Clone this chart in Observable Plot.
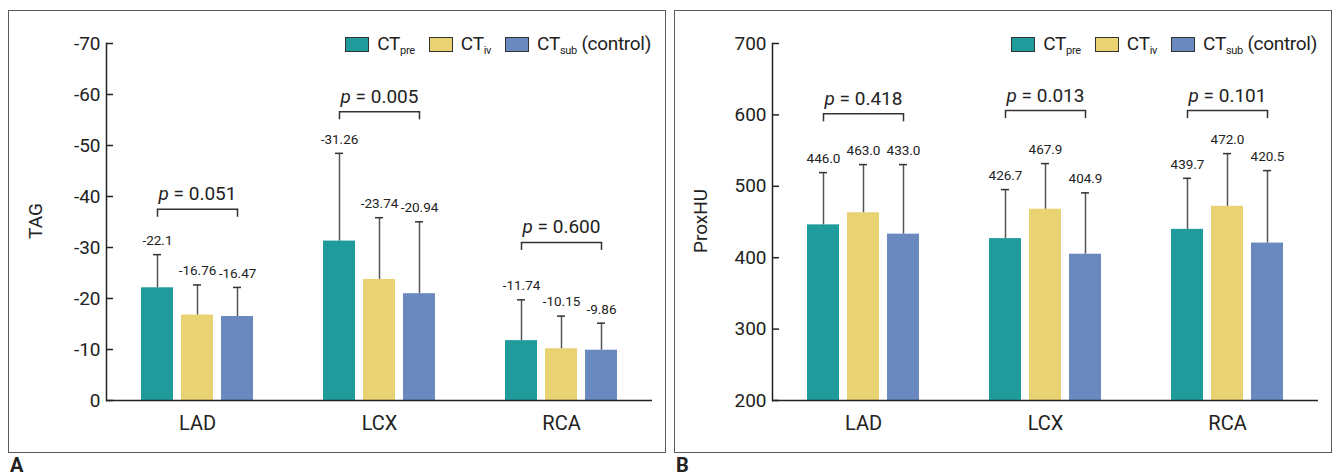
<!DOCTYPE html>
<html>
<head>
<meta charset="utf-8">
<script src="https://cdn.jsdelivr.net/npm/d3@7"></script>
<script src="https://cdn.jsdelivr.net/npm/@observablehq/plot@0.6"></script>
<style>
  html, body { margin: 0; padding: 0; background: #fff; }
  body { width: 1335px; height: 475px; position: relative; overflow: hidden; font-family: Roboto, "Noto Sans", sans-serif; color: #222; }
  .panel { position: absolute; top: 11px; width: 656px; height: 441px; }
  .panel svg { position: absolute; left: 0; top: 0; }
  .border { position: absolute; left: -1px; top: -1px; right: -1px; bottom: -1px; border: 1.5px solid #5a5a5a; pointer-events: none; }
  .legend { position: absolute; top: 23px; right: 14px; display: flex; align-items: center; font-size: 19px; line-height: 15px; letter-spacing: -0.3px; }
  .item { display: flex; align-items: center; margin-left: 14px; }
  .lbl { display: inline-block; white-space: pre; line-height: 20px; }
  .sw { display: inline-block; width: 22px; height: 13px; border: 1px solid #333; margin-right: 8px; }
  .lbl sub { font-size: 11px; vertical-align: baseline; position: relative; top: 4px; line-height: 0; }
  .ylab { position: absolute; top: 221px; font-size: 19px; transform: translate(-50%, -50%) rotate(-90deg); white-space: nowrap; }
  .tag { position: absolute; top: 456px; font-size: 20px; line-height: 18px; font-weight: bold; }
</style>
</head>
<body>
<div id="root"></div>
<script>
// ---------- data ----------
const sites = ["LAD", "LCX", "RCA"];
const groups = ["pre", "iv", "sub"];
const groupColors = ["#209b9c", "#e8d272", "#6a8abf"];
const legendMain = ["CT", "CT", "CT"];
const legendSub = ["pre", "iv", "sub"];
const legendSuffix = ["", "", " (control)"];

// Panel A: TAG
const tagPre = [-22.1, -31.26, -11.74];
const tagIv = [-16.76, -23.74, -10.15];
const tagSub = [-16.47, -20.94, -9.86];
const tagPreSD = [6.5, 17.2, 8.0];
const tagIvSD = [5.9, 12.1, 6.4];
const tagSubSD = [5.7, 14.1, 5.3];
const tagPvals = ["0.051", "0.005", "0.600"];
const tagBrackets = [-37.5, -56.6, -31.0];
const tagTicks = [0, -10, -20, -30, -40, -50, -60, -70];

// Panel B: ProxHU
const huPre = [446.0, 426.7, 439.7];
const huIv = [463.0, 467.9, 472.0];
const huSub = [433.0, 404.9, 420.5];
const huPreSD = [73.2, 68.7, 71.5];
const huIvSD = [67.4, 63.9, 73.8];
const huSubSD = [97.4, 85.9, 101.5];
const huPvals = ["0.418", "0.013", "0.101"];
const huBrackets = [601.5, 606, 606];
const huTicks = [200, 300, 400, 500, 600, 700];

const FONT = 'Roboto, "Noto Sans", sans-serif';

function makePanel({means, sds, dir, base, domain, ticks, brackets, pvals, fmt}) {
  const rows = [];
  groups.forEach((g, j) => sites.forEach((s, i) => {
    const v = means[j][i];
    rows.push({site: s, group: g, v, top: v + dir * sds[j][i], label: fmt(v)});
  }));
  const br = sites.map((s, i) => ({site: s, mid: "iv", y: brackets[i], p: "p = " + pvals[i]}));
  const brLine = br.flatMap(d => ["pre", "sub"].map(g => ({site: d.site, group: g, y: d.y})));

  const svg = Plot.plot({
    width: 656, height: 441,
    marginLeft: 96, marginRight: 13, marginTop: 32, marginBottom: 52,
    style: {fontFamily: FONT, fontSize: "19px", color: "#222", background: "transparent", overflow: "visible"},
    fx: {domain: sites, padding: 0, label: null},
    x: {domain: groups, paddingInner: 0.2, paddingOuter: 0.875, axis: null},
    y: {domain, label: null},
    color: {domain: groups, range: groupColors},
    marks: [
      Plot.barY(rows, {fx: "site", x: "group", y1: base, y2: "v", fill: "group"}),
      Plot.ruleX(rows, {fx: "site", x: "group", y1: "v", y2: "top", stroke: "#555", strokeWidth: 1.5}),
      Plot.tickY(rows, {fx: "site", x: "group", y: "top", stroke: "#333", strokeWidth: 1.5, insetLeft: 12, insetRight: 12}),
      Plot.text(rows, {fx: "site", x: "group", y: "top", text: "label", dy: -14, fontSize: 13.5, fill: "#222"}),
      Plot.line(brLine, {fx: "site", x: "group", y: "y", z: "site", stroke: "#333", strokeWidth: 1.5}),
      Plot.ruleX(brLine, {fx: "site", x: "group", y1: "y", y2: "y", insetBottom: -8, stroke: "#333", strokeWidth: 1.5}),
      Plot.text(br, {fx: "site", x: "mid", y: "y", text: "p", dy: -15, fontSize: 19, fill: "#222"}),
      Plot.ruleY([base], {stroke: "#222", strokeWidth: 1.5}),
      Plot.frame({anchor: "left", facetAnchor: "left", stroke: "#222", strokeWidth: 1.5}),
      Plot.axisY({ticks, tickSize: 0, tickPadding: 6, tickFormat: d => String(d), label: null, fontSize: 19}),
      Plot.axisY({ticks, tickSize: 7, dx: 7, tickFormat: () => "", label: null, stroke: "#222", strokeWidth: 1.5}),
      Plot.axisFx({anchor: "bottom", tickSize: 0, tickPadding: 15, label: null, fontSize: 20})
    ]
  });

  // italic "p" in p-value labels
  const ns = "http://www.w3.org/2000/svg";
  svg.querySelectorAll("text").forEach(t => {
    const s = t.textContent;
    if (!/^p = /.test(s)) return;
    while (t.firstChild) t.removeChild(t.firstChild);
    const it = document.createElementNS(ns, "tspan");
    it.setAttribute("font-style", "italic");
    it.textContent = "p";
    t.appendChild(it);
    t.appendChild(document.createTextNode(s.slice(1)));
  });
  return svg;
}

function legend() {
  const el = document.createElement("div");
  el.className = "legend";
  groups.forEach((g, i) => {
    const item = document.createElement("span");
    item.className = "item";
    const sw = document.createElement("span");
    sw.className = "sw";
    sw.style.background = groupColors[i];
    item.appendChild(sw);
    const lbl = document.createElement("span");
    lbl.className = "lbl";
    lbl.appendChild(document.createTextNode(legendMain[i]));
    const sub = document.createElement("sub");
    sub.textContent = legendSub[i];
    lbl.appendChild(sub);
    if (legendSuffix[i]) lbl.appendChild(document.createTextNode(legendSuffix[i]));
    item.appendChild(lbl);
    el.appendChild(item);
  });
  return el;
}

function addPanel(left, svg, ylabel, ylabX, letter) {
  const root = document.getElementById("root");
  const p = document.createElement("div");
  p.className = "panel";
  p.style.left = left + "px";
  p.appendChild(svg);
  p.appendChild(legend());
  const b = document.createElement("div");
  b.className = "border";
  p.appendChild(b);
  root.appendChild(p);
  const yl = document.createElement("div");
  yl.className = "ylab";
  yl.style.left = ylabX + "px";
  yl.textContent = ylabel;
  root.appendChild(yl);
  const tg = document.createElement("div");
  tg.className = "tag";
  tg.style.left = (left + 1) + "px";
  tg.textContent = letter;
  root.appendChild(tg);
}

addPanel(9, makePanel({
  means: [tagPre, tagIv, tagSub], sds: [tagPreSD, tagIvSD, tagSubSD], dir: -1, base: 0,
  domain: [0, -70], ticks: tagTicks, brackets: tagBrackets, pvals: tagPvals, fmt: v => String(v)
}), "TAG", 35, "A");

addPanel(675, makePanel({
  means: [huPre, huIv, huSub], sds: [huPreSD, huIvSD, huSubSD], dir: 1, base: 200,
  domain: [200, 700], ticks: huTicks, brackets: huBrackets, pvals: huPvals, fmt: v => v.toFixed(1)
}), "ProxHU", 700, "B");
</script>
</body>
</html>
